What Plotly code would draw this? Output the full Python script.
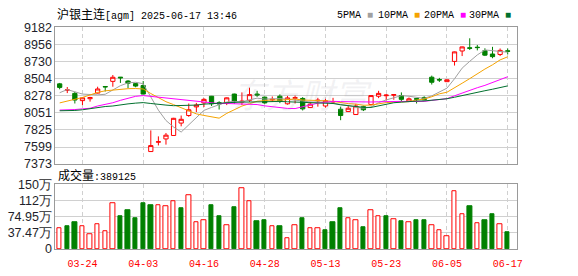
import plotly.graph_objects as go

W, H = 578, 276

# ---------------- data ----------------
dates = ["03-19", "03-20", "03-21", "03-24", "03-25", "03-26", "03-27", "03-28", "03-31",
         "04-01", "04-02", "04-03", "04-07", "04-08", "04-09", "04-10", "04-11",
         "04-14", "04-15", "04-16", "04-17", "04-18", "04-21", "04-22", "04-23", "04-24", "04-25",
         "04-28", "04-29", "04-30", "05-06", "05-07", "05-08", "05-09",
         "05-12", "05-13", "05-14", "05-15", "05-16", "05-19", "05-20", "05-21", "05-22", "05-23",
         "05-26", "05-27", "05-28", "05-29", "05-30", "06-03", "06-04", "06-05", "06-06",
         "06-09", "06-10", "06-11", "06-12", "06-13", "06-16", "06-17"]

opens = [8435, 8352, 8309, 8213, 8238, 8313, 8400, 8468, 8524, 8472,
         8438, 8413, 7539, 7664, 7706, 7752, 7916, 8016, 8130, 8183,
         8271, 8185, 8184, 8300, 8195, 8217, 8300, 8259, 8222, 8271,
         8171, 8244, 8242, 8121, 8210, 8142, 8195, 8099, 8070, 8029,
         8133, 8162, 8271, 8278, 8285, 8280, 8205, 8240, 8255, 8523,
         8492, 8464, 8732, 8870, 8912, 8920, 8874, 8830, 8824, 8872]
highs = [8447, 8393, 8330, 8259, 8263, 8397, 8402, 8552, 8526, 8485,
         8447, 8472, 7819, 7740, 7785, 7985, 8016, 8175, 8183, 8246,
         8275, 8205, 8255, 8305, 8322, 8384, 8343, 8268, 8268, 8296,
         8275, 8280, 8259, 8196, 8250, 8237, 8250, 8133, 8155, 8171,
         8146, 8285, 8343, 8300, 8300, 8322, 8255, 8248, 8270, 8544,
         8514, 8492, 8862, 8928, 9038, 8950, 8906, 8925, 8903, 8903]
lows = [8363, 8313, 8175, 8154, 8200, 8308, 8334, 8397, 8447, 8380,
        8390, 8295, 7536, 7620, 7631, 7750, 7873, 7999, 8062, 8128,
        8142, 8095, 8154, 8171, 8154, 8196, 8263, 8171, 8196, 8180,
        8160, 8175, 8083, 8115, 8133, 8121, 8170, 7954, 8065, 8025,
        8075, 8150, 8246, 8217, 8225, 8196, 8200, 8175, 8215, 8426,
        8460, 8462, 8677, 8803, 8883, 8878, 8803, 8774, 8803, 8824]
closes = [8388, 8355, 8221, 8250, 8254, 8367, 8395, 8522, 8515, 8443,
          8406, 8300, 7618, 7668, 7756, 7979, 7966, 8092, 8155, 8230,
          8171, 8170, 8250, 8196, 8205, 8293, 8288, 8183, 8230, 8205,
          8249, 8252, 8104, 8167, 8218, 8212, 8200, 8016, 8112, 8142,
          8092, 8280, 8309, 8286, 8292, 8230, 8237, 8232, 8225, 8456,
          8486, 8489, 8858, 8924, 8906, 8915, 8815, 8795, 8878, 8866]

ma5 = [8318, 8359, 8330, 8300, 8294, 8289, 8297, 8358, 8411, 8448,
       8456, 8437, 8256, 8087, 7950, 7864, 7797, 7892, 7990, 8084,
       8123, 8164, 8195, 8203, 8198, 8223, 8246, 8233, 8240, 8240,
       8231, 8224, 8208, 8195, 8198, 8191, 8180, 8163, 8152, 8136,
       8112, 8128, 8187, 8222, 8252, 8279, 8271, 8255, 8243, 8276,
       8327, 8378, 8503, 8643, 8733, 8818, 8884, 8871, 8862, 8854]
ma10 = [8183, 8205, 8230, 8255, 8288, 8322, 8343, 8355, 8363, 8371,
        8373, 8367, 8307, 8249, 8199, 8160, 8117, 8074, 8038, 8017,
        7994, 7981, 8044, 8097, 8141, 8173, 8205, 8214, 8222, 8219,
        8227, 8235, 8221, 8218, 8219, 8211, 8202, 8185, 8174, 8167,
        8152, 8154, 8175, 8187, 8194, 8196, 8200, 8221, 8233, 8264,
        8303, 8324, 8379, 8443, 8504, 8573, 8631, 8687, 8752, 8793]
ma20 = [8088, 8090, 8095, 8104, 8112, 8142, 8160, 8185, 8217, 8246,
        8270, 8280, 8270, 8258, 8245, 8236, 8226, 8218, 8205, 8194,
        8183, 8174, 8175, 8173, 8170, 8167, 8161, 8144, 8130, 8118,
        8110, 8108, 8132, 8157, 8180, 8192, 8204, 8200, 8198, 8193,
        8189, 8195, 8198, 8202, 8207, 8203, 8201, 8203, 8203, 8216,
        8227, 8239, 8277, 8315, 8349, 8384, 8415, 8454, 8492, 8529]
ma30 = [8079, 8080, 8083, 8092, 8108, 8121, 8135, 8142, 8158, 8170,
        8180, 8187, 8175, 8162, 8154, 8146, 8146, 8146, 8154, 8167,
        8175, 8183, 8187, 8190, 8193, 8196, 8197, 8198, 8200, 8202,
        8198, 8194, 8190, 8188, 8186, 8181, 8175, 8158, 8144, 8134,
        8124, 8123, 8146, 8167, 8185, 8193, 8202, 8207, 8209, 8217,
        8227, 8238, 8258, 8282, 8306, 8327, 8344, 8364, 8386, 8408]

volume = [476000, 527000, 615000, 520000, 350000, 585000, 410000, 1068000, 768000, 900000,
          724000, 1054000, 1010000, 1024000, 1000000, 1110000, 950000, 1244000, 630000, 673000,
          1010000, 754000, 549000, 973000, 1398000, 1112000, 637000, 659000, 520000, 527000,
          256000, 549000, 724000, 476000, 476000, 439000, 615000, 944000, 717000, 673000,
          505000, 893000, 761000, 768000, 695000, 637000, 629000, 659000, 659000, 549000,
          432000, 307000, 1339000, 805000, 988000, 607000, 659000, 812000, 571000, 389125]
# 1 = close above previous close (red), 0 = below (green)
vol_up = [1, 0, 0, 1, 1, 1, 1, 1, 0, 0, 0, 0, 0, 1, 1, 1, 0, 1, 1, 1,
          0, 0, 1, 0, 1, 1, 0, 0, 1, 0, 1, 1, 0, 1, 1, 0, 0, 0, 1, 1,
          0, 1, 1, 0, 1, 0, 1, 0, 0, 1, 1, 1, 1, 1, 0, 1, 0, 0, 1, 0]

price_ticks = [7373, 7599.1, 7825.25, 8051.4, 8277.5, 8503.6, 8729.75, 8955.9, 9182]
price_labels = ["7373", "7599", "7825", "8051", "8278", "8504", "8730", "8956", "9182"]
vol_ticks = [0, 374750, 749500, 1124250, 1499000]
vol_labels = ["0", "37.47万", "74.95万", "112万", "150万"]
date_labels = ["03-24", "04-03", "04-16", "04-28", "05-13", "05-23", "06-05", "06-17"]

title_name = "沪银主连"
title_rest = "[agm] 2025-06-17 13:46"
vol_title = "成交量"
ma_names = ["5PMA", "10PMA", "20PMA", "30PMA"]

# ---------------- styling ----------------
RED = "#ff0000"
GREEN = "#008000"
MA_COLORS = ["#a0a0a0", "#f5a300", "#ff00ff", "#00702e"]
GRID = "#d0d0d0"
BORDER = "#9a9a9a"
MONO = "Liberation Mono, Noto Sans CJK SC, monospace"
SANS = "Liberation Sans, Arial, sans-serif"

x = list(range(len(dates)))
tick_idx = [dates.index(d) for d in date_labels]


def px(v):
    return v / W


def py(v):
    return 1 - v / H


fig = go.Figure()

fig.add_trace(go.Candlestick(
    x=x, open=opens, high=highs, low=lows, close=closes,
    increasing=dict(line=dict(color=RED, width=1), fillcolor="#ffffff"),
    decreasing=dict(line=dict(color=GREEN, width=1), fillcolor=GREEN),
    whiskerwidth=0, hoverinfo="skip", showlegend=False,
    xaxis="x", yaxis="y"))

for series, col in zip([ma5, ma10, ma20, ma30], MA_COLORS):
    fig.add_trace(go.Scatter(x=x, y=series, mode="lines",
                             line=dict(color=col, width=1),
                             hoverinfo="skip", showlegend=False,
                             xaxis="x", yaxis="y"))

fig.add_trace(go.Bar(
    x=x, y=volume, width=0.58,
    marker=dict(color=["#ffffff" if u else GREEN for u in vol_up],
                line=dict(color=[RED if u else GREEN for u in vol_up], width=1)),
    hoverinfo="skip", showlegend=False, xaxis="x2", yaxis="y2"))

xr = [-0.56, 60.17]
common_x = dict(range=xr, tickvals=tick_idx, showgrid=True, gridcolor=GRID,
                griddash="4px,3px", gridwidth=1, zeroline=False,
                showline=True, mirror=True, linecolor=BORDER, linewidth=1,
                fixedrange=True)
common_y = dict(showgrid=True, gridcolor=GRID, gridwidth=1, zeroline=False,
                showline=True, mirror=True, linecolor=BORDER, linewidth=1,
                ticks="", fixedrange=True,
                tickfont=dict(family=SANS, size=12.5, color="#1e1e2a"))

annotations = [
    dict(x=px(56), y=py(8.5), xref="paper", yref="paper", xanchor="left", yanchor="middle",
         showarrow=False,
         text=f'<span style="font-size:12px">{title_name}</span>{title_rest}',
         font=dict(family=MONO, size=10, color="#000000")),
    dict(x=px(57), y=py(178), xref="paper", yref="paper", xanchor="left", yanchor="middle",
         showarrow=False,
         text=f'<span style="font-size:12px">{vol_title}</span>:{volume[-1]}',
         font=dict(family=MONO, size=10, color="#000000")),
    dict(x=px(305), y=py(91), xref="paper", yref="paper", xanchor="center", yanchor="middle",
         showarrow=False, text="<i>东方财富</i>",
         font=dict(family="Noto Sans CJK SC", size=34, color="rgba(150,150,160,0.13)")),
]
leg_x = [339, 380, 426, 472]
for name, col, lx in zip(ma_names, MA_COLORS, leg_x):
    annotations.append(dict(
        x=px(lx), y=py(8.5), xref="paper", yref="paper", xanchor="left", yanchor="middle",
        showarrow=False,
        text=f'{name} <span style="color:{col}">■</span>',
        font=dict(family=MONO, size=10, color="#000000")))

fig.update_layout(
    width=W, height=H, margin=dict(l=0, r=0, t=0, b=0),
    paper_bgcolor="#ffffff", plot_bgcolor="#ffffff",
    boxgap=0.44, boxgroupgap=0, bargap=0,
    showlegend=False,
    xaxis=dict(domain=[px(56), px(522)], anchor="y", showticklabels=False,
               ticks="", rangeslider=dict(visible=False), **common_x),
    yaxis=dict(domain=[py(165.5), py(21.5)], anchor="x", range=[7373, 9182],
               tickvals=price_ticks, ticktext=price_labels, **common_y),
    xaxis2=dict(domain=[px(56), px(522)], anchor="y2", ticktext=date_labels,
                ticks="outside", ticklen=5, tickcolor="rgba(0,0,0,0)",
                tickfont=dict(family=MONO, size=10, color=RED), **common_x),
    yaxis2=dict(domain=[py(255), py(186.7)], anchor="x2", range=[0, 1499000],
                tickvals=vol_ticks, ticktext=vol_labels, **common_y),
    annotations=annotations,
)

fig.write_html("out.html")
